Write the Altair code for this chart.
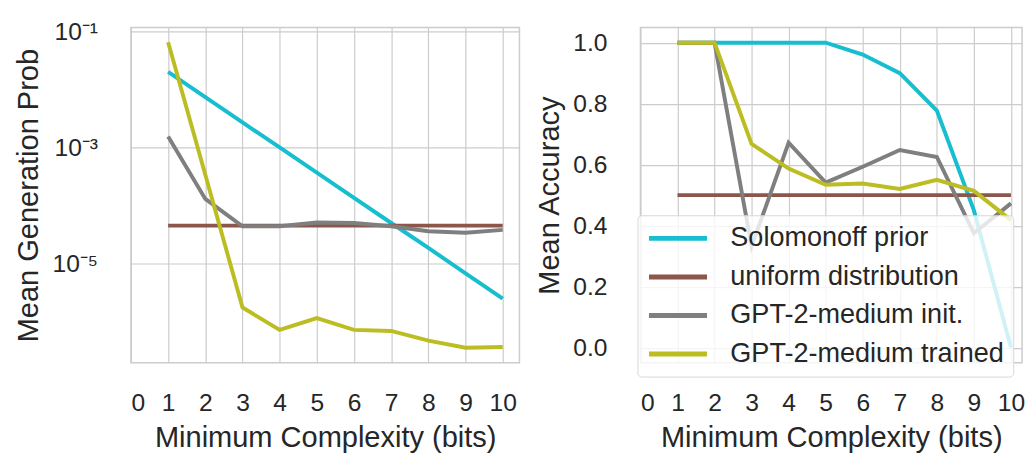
import altair as alt
import pandas as pd

bits = [1, 2, 3, 4, 5, 6, 7, 8, 9, 10]
series = ["Solomonoff prior", "uniform distribution", "GPT-2-medium init.", "GPT-2-medium trained"]
colors = ["#17becf", "#8c564b", "#7f7f7f", "#bcbd22"]

# Left panel: mean generation probability (log scale)
prob_solomonoff = [2.0e-2, 7.4e-3, 2.7e-3, 1.0e-3, 3.7e-4, 1.35e-4, 5.0e-5, 1.86e-5, 6.8e-6, 2.5e-6]
prob_uniform = [4.5e-5, 4.5e-5, 4.5e-5, 4.5e-5, 4.5e-5, 4.5e-5, 4.5e-5, 4.5e-5, 4.5e-5, 4.5e-5]
prob_init = [1.55e-3, 1.3e-4, 4.4e-5, 4.4e-5, 5.1e-5, 5.0e-5, 4.4e-5, 3.6e-5, 3.4e-5, 3.8e-5]
prob_trained = [6.5e-2, 3.4e-4, 1.75e-6, 7.2e-7, 1.15e-6, 7.2e-7, 6.9e-7, 4.7e-7, 3.55e-7, 3.65e-7]

# Right panel: mean accuracy
acc_solomonoff = [1.0, 1.0, 1.0, 1.0, 1.0, 0.961, 0.90, 0.777, 0.45, 0.0]
acc_uniform = [0.5, 0.5, 0.5, 0.5, 0.5, 0.5, 0.5, 0.5, 0.5, 0.5]
acc_init = [1.0, 1.0, 0.332, 0.672, 0.541, 0.593, 0.648, 0.625, 0.375, 0.473]
acc_trained = [1.0, 1.0, 0.668, 0.587, 0.534, 0.538, 0.52, 0.55, 0.514, 0.418]

x_ticks = [0, 1, 2, 3, 4, 5, 6, 7, 8, 9, 10]
log_tick_values = [1e-1, 1e-3, 1e-5]
log_tick_exps = [-1, -3, -5]
log_tick_labels = ["10\u207b\u00b9", "10\u207b\u00b3", "10\u207b\u2075"]
acc_ticks = [0.0, 0.2, 0.4, 0.6, 0.8, 1.0]


def long_df(lists):
    rows = []
    for name, vals in zip(series, lists):
        for b, v in zip(bits, vals):
            rows.append({"bits": b, "value": v, "series": name})
    return pd.DataFrame(rows)


df_prob = long_df([prob_solomonoff, prob_uniform, prob_init, prob_trained])
df_acc = long_df([acc_solomonoff, acc_uniform, acc_init, acc_trained])

label_expr = ""
for e, lab in zip(log_tick_exps, log_tick_labels):
    label_expr += f"abs(log(datum.value)/LN10 - ({e})) < 0.5 ? '{lab}' : "
label_expr += "''"

FONT = "Liberation Sans"
TXT = "#262626"

# legend symbol: a long horizontal stroke
SYM_R = 11.8  # half of sqrt(symbolSize)
SYM_SIZE = (2 * SYM_R) ** 2


def panel(df, y_scale, y_axis, width, xmax, legend):
    layers = []
    for s in series:
        layers.append(
            alt.Chart(df)
            .transform_filter(alt.datum.series == s)
            .mark_line(strokeWidth=4, strokeCap="butt", clip=True)
            .encode(
                x=alt.X("bits:Q", scale=alt.Scale(domain=[0, xmax], nice=False),
                        axis=alt.Axis(values=x_ticks, format="d",
                                      title="Minimum Complexity (bits)")),
                y=alt.Y("value:Q", scale=y_scale, axis=y_axis),
                color=alt.Color("series:N", scale=alt.Scale(domain=series, range=colors),
                                legend=legend),
            )
        )
    return alt.layer(*layers).properties(width=width, height=341)


left = panel(
    df_prob,
    alt.Scale(type="log", domain=[1.95e-7, 0.117], nice=False),
    alt.Axis(values=log_tick_values, labelExpr=label_expr, title="Mean Generation Prob"),
    395, 10.45, None,
)

right = panel(
    df_acc,
    alt.Scale(domain=[-0.05, 1.05], nice=False, zero=False),
    alt.Axis(values=acc_ticks, format=".1f", title="Mean Accuracy"),
    388, 10.3,
    alt.Legend(
        title=None, orient="none", legendX=-3, legendY=191,
        symbolType="M-2.5,0L2.5,0", symbolStrokeWidth=5, symbolSize=SYM_SIZE,
        symbolOffset=1.5 * SYM_R, labelOffset=1.5 * SYM_R + 21,
        labelFontSize=27.5, labelFont=FONT, labelColor=TXT,
        rowPadding=11.2, padding=9,
        fillColor="rgba(255,255,255,0.8)", strokeColor="#d6d6d6", cornerRadius=4,
        labelLimit=400,
    ),
)

chart = (
    alt.hconcat(left, right, spacing=13)
    .resolve_scale(color="independent")
    .resolve_legend(color="independent")
    .properties(padding={"left": 5, "top": 7, "right": 0, "bottom": 0})
    .configure_axis(
        labelFont=FONT, titleFont=FONT, labelFontSize=25, titleFontSize=29.5,
        labelColor=TXT, titleColor=TXT, titleFontWeight="normal",
        gridColor="#cccccc", gridWidth=1.2, domain=False, ticks=False,
        labelPadding=28, titlePadding=9,
    )
    .configure_axisY(labelPadding=34)
    .configure_view(stroke="#cccccc", strokeWidth=1.5)
)

chart.save("out.html", embed_options={"renderer": "svg", "actions": False})
